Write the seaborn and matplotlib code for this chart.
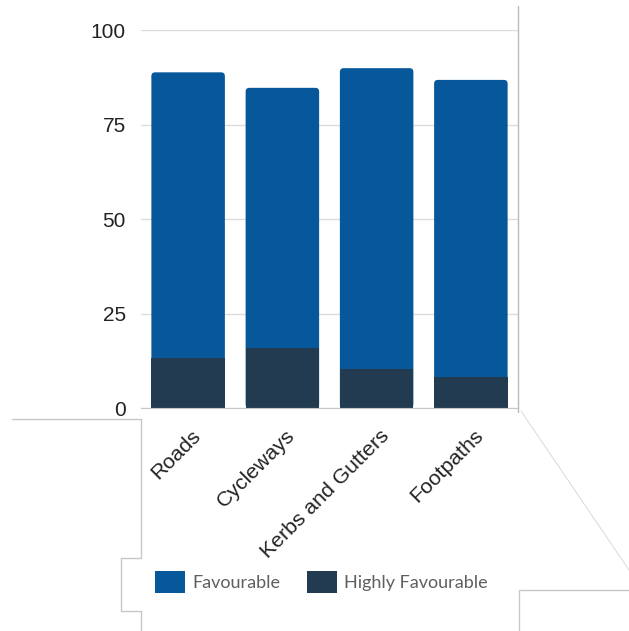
import matplotlib
matplotlib.use("Agg")
import matplotlib.pyplot as plt
import matplotlib.transforms as mtransforms
from matplotlib.patches import Patch, FancyBboxPatch
from matplotlib.lines import Line2D
import seaborn as sns

# values
categories = ['Roads', 'Cycleways', 'Kerbs and Gutters', 'Footpaths']
favourable = [75.5, 68.7, 79.7, 78.5]
highly_favourable = [13.3, 16.0, 10.2, 8.3]
series_names = ['Favourable', 'Highly Favourable']
y_ticks = [0, 25, 50, 75, 100]

totals = [f + h for f, h in zip(favourable, highly_favourable)]

blue = '#06589a'
dark = '#233b50'

sns.set_style("white")
plt.rcParams['font.family'] = ['Liberation Sans', 'DejaVu Sans']

W, H = 629, 631
fig = plt.figure(figsize=(W / 100, H / 100), dpi=100)
ax_l, ax_r, ax_t, ax_b = 141, 518, 30, 408
ax = fig.add_axes([ax_l / W, 1 - ax_b / H, (ax_r - ax_l) / W, (ax_b - ax_t) / H])

sns.barplot(x=categories, y=totals, color=blue, width=0.78, saturation=1,
            edgecolor='none', linewidth=0, ax=ax)
sns.barplot(x=categories, y=highly_favourable, color=dark, width=0.78, saturation=1,
            edgecolor='none', linewidth=0, ax=ax)

ax.set_xlim(-0.5, 3.5)
ax.set_ylim(0, 100)

# rounded tops on the stacked bars
px_x = (ax_r - ax_l) / 4
px_y = (ax_b - ax_t) / 100
for bar in ax.containers[0]:
    x, y = bar.get_x(), bar.get_y()
    w, h = bar.get_width(), bar.get_height()
    bar.set_visible(False)
    rb = FancyBboxPatch((x, y), w, h, boxstyle="round,pad=0,rounding_size=0.04",
                        mutation_aspect=px_x / px_y, facecolor=blue,
                        edgecolor='none', zorder=0.9)
    ax.add_patch(rb)
for bar in ax.containers[1]:
    bar.set_zorder(1)

ax.set_yticks(y_ticks)
ax.set_xlabel('')
ax.set_ylabel('')
ax.set_axisbelow(True)
ax.grid(axis='y', color='#dcdcdc', linewidth=1)
for s in ['left', 'top', 'right']:
    ax.spines[s].set_visible(False)
ax.spines['bottom'].set_color('#c8c8c8')
ax.tick_params(axis='y', length=3, color='#cccccc', pad=8, labelsize=15, labelcolor='#222222')
ax.tick_params(axis='x', length=0, pad=13, labelsize=15.3, labelcolor='#222222')
offset = mtransforms.ScaledTranslation(3 / 100, 0, fig.dpi_scale_trans)
for lbl in ax.get_xticklabels():
    lbl.set_rotation(45)
    lbl.set_ha('right')
    lbl.set_va('top')
    lbl.set_rotation_mode('anchor')
    lbl.set_transform(lbl.get_transform() + offset)

handles = [Patch(facecolor=blue, edgecolor='none'), Patch(facecolor=dark, edgecolor='none')]
leg = fig.legend(handles, series_names, loc='center left',
                 bbox_to_anchor=(148 / W, 1 - 582 / H), frameon=False, ncol=2,
                 prop={'family': 'Lato', 'size': 13}, labelcolor='#5f5f5f',
                 handlelength=1.65, handleheight=1.5, handletextpad=0.4,
                 columnspacing=1.5, borderaxespad=0)

# faint panel outlines from the original screenshot
def fline(xs, ys, color='#c8c8c8', lw=1):
    fig.add_artist(Line2D([x / W for x in xs], [1 - y / H for y in ys],
                          color=color, linewidth=lw, transform=fig.transFigure))

fline([518, 518], [6, 412], color='#bbbbbb')
fline([12, 141, 141], [419, 419, 558])
fline([141, 121, 121, 141, 141], [558, 558, 611, 611, 631])
fline([521, 629], [411, 570], color='#d4d4d4', lw=0.6)
fline([629, 519, 519], [590, 590, 631])

fig.savefig('out.png', dpi=100)
